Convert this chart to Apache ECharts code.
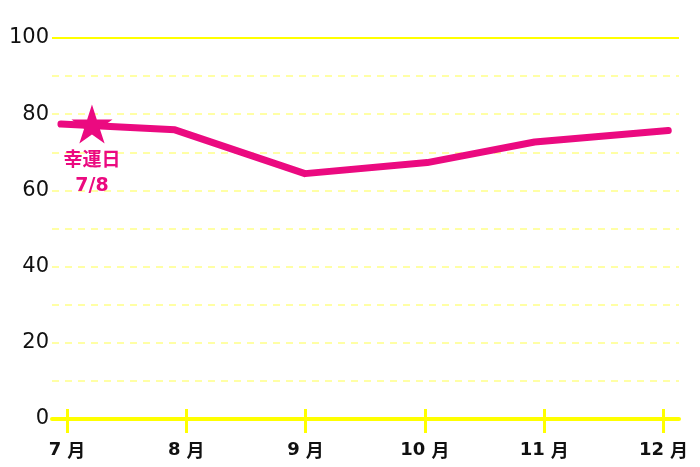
<!DOCTYPE html>
<html>
<head>
<meta charset="utf-8">
<script src="https://cdn.jsdelivr.net/npm/echarts@6/dist/echarts.min.js"></script>
<style>html,body{margin:0;padding:0;background:#fff;}#c{width:700px;height:467px;}</style>
</head>
<body>
<div id="c"></div>
<script>
// Month categories (x positions 0..5)
var months = ['7月', '8月', '9月', '10月', '11月', '12月'];
var monthTicks = [0, 1, 2, 3, 4, 5];
// Line series: x in months from 7月, y values
var lineX = [-0.05, 0.905, 1.995, 3.02, 3.92, 5.04];
var lineY = [77.4, 75.9, 64.4, 67.3, 72.7, 75.7];
// Lucky day marker
var luckyX = [0.21];
var luckyY = [77.4];
var luckyLabel = '幸運日\n7/8';
var yTicks = [0, 20, 40, 60, 80, 100];

var PINK = '#EB0A80';
var YEL = '#FFFF00';
var starPath = 'path://M50,0 L61.2,34.5 L97.6,34.5 L68.2,55.9 L79.4,90.5 L50,69.1 L20.6,90.5 L31.8,55.9 L2.4,34.5 L38.8,34.5 Z';

// month label split into number + 月 (rich tokens, text unchanged)
function monthLabel(s) {
  var num = s.slice(0, s.length - 1);
  var unit = s.slice(s.length - 1);
  return '{d|' + num + '}{m|' + unit + '}';
}

var chart = echarts.init(document.getElementById('c'), null, {renderer: 'canvas'});
chart.setOption({
  animation: false,
  backgroundColor: '#fff',
  grid: {left: 52, right: 21, top: 38, bottom: 48, containLabel: false},
  xAxis: [{
    type: 'value', min: -0.125, max: 5.13,
    axisLine: {show: true, lineStyle: {color: YEL, width: 4}},
    axisTick: {show: true, customValues: monthTicks, length: 14, lineStyle: {color: YEL, width: 3}},
    axisLabel: {customValues: monthTicks, margin: 22, color: '#111',
      formatter: function (v) { return monthLabel(months[Math.round(v)]); },
      rich: {
        d: {fontSize: 18, fontWeight: 'bold', fontFamily: 'DejaVu Sans', color: '#111', padding: [0, 6, 0, 0]},
        m: {fontSize: 18, fontWeight: 'bold', fontFamily: 'Noto Sans CJK JP', color: '#111'}
      }},
    splitLine: {show: false}
  }, {
    type: 'value', min: -0.125, max: 5.13, position: 'bottom',
    axisLine: {show: false},
    axisTick: {show: true, inside: true, customValues: monthTicks, length: 10, lineStyle: {color: YEL, width: 3}},
    axisLabel: {show: false},
    splitLine: {show: false}
  }],
  yAxis: {
    type: 'value', min: 0, max: 100, interval: 10,
    axisLine: {show: false}, axisTick: {show: false},
    axisLabel: {margin: 3, color: '#111', fontSize: 21, fontFamily: 'DejaVu Sans',
      formatter: function (v) { return yTicks.indexOf(v) >= 0 ? String(v) : ''; }},
    splitLine: {show: true, lineStyle: {color: '#FFFF88', width: 1.5, type: [7, 6]}}
  },
  series: [{
    type: 'line',
    data: lineX.map(function (x, i) { return [x, lineY[i]]; }),
    symbol: 'none',
    lineStyle: {color: PINK, width: 7, cap: 'round', join: 'round'},
    markLine: {silent: true, symbol: 'none', label: {show: false},
      lineStyle: {color: YEL, width: 2, type: 'solid'},
      data: [{yAxis: 100}]},
    z: 3
  }, {
    type: 'scatter',
    data: luckyX.map(function (x, i) { return [x, luckyY[i]]; }),
    symbol: starPath,
    symbolSize: [41, 39],
    itemStyle: {color: PINK, opacity: 1},
    label: {show: true, position: 'bottom', distance: 5, formatter: luckyLabel,
      color: PINK, fontSize: 19, lineHeight: 25, fontFamily: 'DejaVu Sans, Noto Sans CJK JP', fontWeight: 'bold', align: 'center'},
    z: 5
  }]
});
</script>
</body>
</html>
